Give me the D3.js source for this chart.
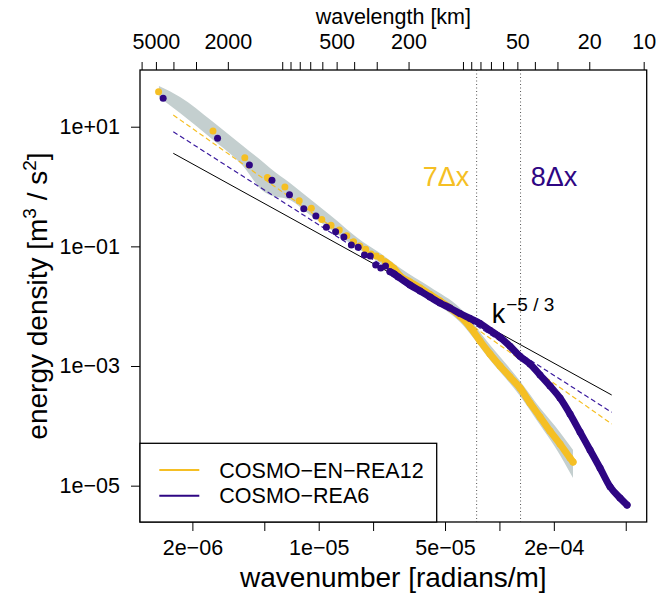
<!DOCTYPE html>
<html>
<head>
<meta charset="utf-8">
<script src="https://cdn.jsdelivr.net/npm/d3@7"></script>
<style>
body { margin: 0; background: #fff; }
svg text { font-family: "Liberation Sans", Arial, Helvetica, sans-serif; fill: #000; }
</style>
</head>
<body>
<svg id="chart" width="657" height="596"></svg>
<script>
// wavenumber in radians/m, energy density in m^3/s^2
const rea12Wavenumber = [1.30e-6, 2.60e-6, 3.90e-6, 5.20e-6, 6.50e-6, 7.80e-6, 9.10e-6, 1.04e-5, 1.17e-5, 1.30e-5,
    1.43e-5, 1.56e-5, 1.69e-5, 1.82e-5, 1.95e-5, 2.08e-5, 2.21e-5, 2.34e-5, 2.47e-5, 2.60e-5,
    2.82e-5, 3.20e-5, 3.64e-5, 4.13e-5, 4.69e-5, 5.33e-5, 6.05e-5, 6.88e-5, 7.81e-5, 8.87e-5,
    1.008e-4, 1.145e-4, 1.300e-4, 1.477e-4, 1.678e-4, 1.905e-4, 2.164e-4, 2.458e-4, 2.554e-4];
const rea12Energy = [38.5, 8.47, 3.03, 1.41, 0.983, 0.580, 0.433, 0.281, 0.225, 0.188,
    0.151, 0.120, 0.101, 0.0893, 0.0745, 0.069, 0.0632, 0.0548, 0.0488, 0.043,
    0.0320, 0.0254, 0.0201, 0.0157, 0.0122, 0.00933, 0.00686, 0.00449, 0.00262, 0.00159,
    0.00100, 0.000655, 0.000429, 0.000241, 0.000141, 8.2e-5, 4.97e-5, 2.90e-5, 2.49e-5];

const rea6Wavenumber = [1.378e-6, 2.756e-6, 4.134e-6, 5.512e-6, 6.89e-6, 8.268e-6, 9.646e-6, 1.1024e-5, 1.2402e-5, 1.378e-5,
    1.5158e-5, 1.6536e-5, 1.7914e-5, 1.9292e-5, 2.067e-5, 2.2048e-5, 2.3426e-5, 2.4804e-5, 2.6182e-5, 2.756e-5,
    3.20e-5, 3.64e-5, 4.13e-5, 4.69e-5, 5.33e-5, 6.05e-5, 6.88e-5, 7.81e-5, 8.87e-5, 1.008e-4,
    1.145e-4, 1.300e-4, 1.477e-4, 1.678e-4, 1.905e-4, 2.164e-4, 2.458e-4, 2.792e-4, 3.172e-4, 3.603e-4,
    4.093e-4, 4.649e-4, 5.084e-4];
const rea6Energy = [29.9, 6.40, 2.29, 1.27, 0.730, 0.426, 0.321, 0.208, 0.176, 0.143,
    0.105, 0.0964, 0.0718, 0.0691, 0.0489, 0.0435, 0.0469, 0.0377, 0.0345, 0.0308,
    0.0226, 0.01794, 0.01424, 0.01131, 0.00933, 0.00755, 0.00623, 0.00514, 0.00396, 0.00302,
    0.002136, 0.001454, 0.00108, 0.000708, 0.000464, 0.000292, 0.000158, 7.9e-5, 3.95e-5, 1.975e-5,
    9.62e-6, 6.22e-6, 4.75e-6];

// ensemble spread of COSMO-EN-REA12
const spreadWavenumber = [1.306e-6, 1.708e-6, 2.567e-6, 3.812e-6, 4.916e-6, 5.375e-6, 6.938e-6, 8.953e-6, 1.155e-5, 1.758e-5,
    2.184e-5, 2.818e-5, 4.13e-5, 6.05e-5, 8.87e-5, 1.300e-4, 1.678e-4, 2.031e-4, 2.554e-4];
const spreadHigh = [47.9, 31.4, 12.46, 4.76, 2.572, 2.042, 1.146, 0.619, 0.334, 0.1183,
    0.0774, 0.0435, 0.02093, 0.00933, 0.002246, 0.000562, 0.000199, 9.94e-5, 3.95e-5];
const spreadLow = [31.4, 16.95, 6.23, 2.205, 0.8425, 0.7225, 0.5957, 0.3344, 0.1952, 0.0805,
    0.0527, 0.02537, 0.01269, 0.00544, 0.001261, 0.0003155, 0.0001033, 4.43e-5, 1.344e-5];

// reference slopes: [start, end]
const fitWavenumber = [1.568e-6, 4.18e-4];
const kolmogorovEnergy = [3.593, 3.279e-4];
const rea12FitEnergy = [15.69, 1.074e-4];
const rea6FitEnergy = [8.25, 1.684e-4];

// effective resolution (km): 7 x 12 km and 8 x 6 km
const cutoffWavelength = [84, 48];
const cutoffLabels = ["7Δx", "8Δx"];

const xTicks = [2e-6, 5e-6, 1e-5, 2e-5, 5e-5, 1e-4, 2e-4, 5e-4];
const xTickLabels = ["2e−06", "", "1e−05", "", "5e−05", "", "2e−04", ""];
const yTicks = [10, 0.1, 1e-3, 1e-5];
const yTickLabels = ["1e+01", "1e−01", "1e−03", "1e−05"];
const wavelengthTicks = [6000, 5000, 4000, 3000, 2000, 1000, 900, 800, 700, 600, 500, 400, 300, 200,
    100, 90, 80, 70, 60, 50, 40, 30, 20, 10];
const wavelengthLabels = [5000, 2000, 500, 200, 50, 20, 10];

const seriesNames = ["COSMO−EN−REA12", "COSMO−REA6"];
const yellow = "#f5bf24";
const purple = "#2e0683";

const xLimits = [1.026e-6, 6.53e-4];
const yLimits = [2.47e-6, 88.7];

const svg = d3.select("#chart");
const margin = { top: 70, right: 10.3, bottom: 74, left: 140 };
const width = 657 - margin.left - margin.right;
const height = 596 - margin.top - margin.bottom;

const x = d3.scaleLog().domain(xLimits).range([0, width]);
const y = d3.scaleLog().domain(yLimits).range([height, 0]);
const toWavelength = k => 2 * Math.PI / k / 1000;
const xTop = d3.scaleLog().domain(xLimits.map(toWavelength)).range([0, width]);

const g = svg.append("g").attr("transform", `translate(${margin.left},${margin.top})`);

svg.append("defs").append("clipPath").attr("id", "clip")
    .append("rect").attr("width", width).attr("height", height);

const plot = g.append("g").attr("clip-path", "url(#clip)");

// spread band
const band = d3.area()
    .x((d, i) => x(spreadWavenumber[i]))
    .y0((d, i) => y(spreadLow[i]))
    .y1((d, i) => y(spreadHigh[i]))
    .curve(d3.curveMonotoneX);
plot.append("path")
    .datum(spreadWavenumber)
    .attr("d", band)
    .attr("fill", "#c4cfcf");

// dotted resolution lines
plot.selectAll(".cutoff")
    .data(cutoffWavelength)
    .enter()
    .append("line")
    .attr("x1", d => xTop(d))
    .attr("x2", d => xTop(d))
    .attr("y1", 0)
    .attr("y2", height)
    .attr("stroke", "#555")
    .attr("stroke-width", 1)
    .attr("stroke-dasharray", "1,2.5");

const straight = d3.line().x((d, i) => x(fitWavenumber[i])).y(d => y(d));
plot.append("path").datum(kolmogorovEnergy).attr("d", straight)
    .attr("stroke", "#000").attr("stroke-width", 1).attr("fill", "none");
plot.append("path").datum(rea12FitEnergy).attr("d", straight)
    .attr("stroke", yellow).attr("stroke-width", 1.2).attr("stroke-dasharray", "5,3").attr("fill", "none");
plot.append("path").datum(rea6FitEnergy).attr("d", straight)
    .attr("stroke", "#3a1a9e").attr("stroke-width", 1.2).attr("stroke-dasharray", "5,3").attr("fill", "none");

const drawSpectrum = (ks, es, color, denseFrom) => {
    const points = ks.map((k, i) => ({ k: k, e: es[i] }));
    const dense = d3.line().x(d => x(d.k)).y(d => y(d.e)).curve(d3.curveMonotoneX);
    plot.append("path")
        .datum(points.slice(denseFrom))
        .attr("d", dense)
        .attr("fill", "none")
        .attr("stroke", color)
        .attr("stroke-width", 7)
        .attr("stroke-linecap", "round")
        .attr("stroke-linejoin", "round");
    plot.append("g").selectAll("circle")
        .data(points)
        .enter()
        .append("circle")
        .attr("cx", d => x(d.k))
        .attr("cy", d => y(d.e))
        .attr("r", 3.5)
        .attr("fill", color);
}

drawSpectrum(rea12Wavenumber, rea12Energy, yellow, 17);
drawSpectrum(rea6Wavenumber, rea6Energy, purple, 17);

// annotations
g.selectAll(".cutoff-label")
    .data(cutoffLabels)
    .enter()
    .append("text")
    .attr("x", (d, i) => [306, 414][i])
    .attr("y", 116)
    .attr("text-anchor", "middle")
    .style("font-size", "27px")
    .style("fill", (d, i) => i === 0 ? yellow : purple)
    .text(d => d);

const slopeLabel = g.append("text")
    .attr("x", 351.7)
    .attr("y", 253)
    .style("font-size", "27px");
slopeLabel.append("tspan").text("k");
slopeLabel.append("tspan").attr("dx", 1).attr("dy", -12).style("font-size", "19px").text("−5 / 3");

// axes
const bottomAxis = d3.axisBottom(x)
    .tickValues(xTicks)
    .tickFormat((d, i) => xTickLabels[i])
    .tickSize(9)
    .tickSizeOuter(0)
    .tickPadding(9);
const leftAxis = d3.axisLeft(y)
    .tickValues(yTicks)
    .tickFormat((d, i) => yTickLabels[i])
    .tickSize(9)
    .tickSizeOuter(0)
    .tickPadding(11);
const topAxis = d3.axisTop(xTop)
    .tickValues(wavelengthTicks)
    .tickFormat(d => wavelengthLabels.includes(d) ? String(d) : "")
    .tickSize(8)
    .tickSizeOuter(0)
    .tickPadding(13);

const styleAxis = (sel) => {
    sel.select(".domain").remove();
    sel.selectAll("line").attr("stroke", "#000");
    sel.selectAll("text").style("font-size", "21.5px").style("font-family", "Liberation Sans, Arial, sans-serif");
}

g.append("g").attr("transform", `translate(0,${height})`).call(bottomAxis).call(styleAxis);
g.append("g").call(leftAxis).call(styleAxis);
g.append("g").call(topAxis).call(styleAxis);

g.append("rect")
    .attr("width", width)
    .attr("height", height)
    .attr("fill", "none")
    .attr("stroke", "#000")
    .attr("stroke-width", 1.3);

// titles
svg.append("text")
    .attr("x", margin.left + width / 2)
    .attr("y", 24)
    .attr("text-anchor", "middle")
    .style("font-size", "21.5px")
    .text("wavelength [km]");

svg.append("text")
    .attr("x", margin.left + width / 2)
    .attr("y", 587)
    .attr("text-anchor", "middle")
    .style("font-size", "28px")
    .text("wavenumber [radians/m]");

const yTitle = svg.append("text")
    .attr("transform", `translate(47,${margin.top + height / 2}) rotate(-90)`)
    .attr("text-anchor", "middle")
    .style("font-size", "28px");
yTitle.append("tspan").text("energy density [m");
yTitle.append("tspan").attr("dy", -11).style("font-size", "19px").text("3");
yTitle.append("tspan").attr("dy", 11).text(" / s");
yTitle.append("tspan").attr("dy", -11).style("font-size", "19px").text("2");
yTitle.append("tspan").attr("dy", 11).text("]");

// legend
const legend = g.append("g").attr("transform", `translate(0,${height - 78.7})`);
legend.append("rect")
    .attr("width", 296.7)
    .attr("height", 78.7)
    .attr("fill", "#fff")
    .attr("stroke", "#000")
    .attr("stroke-width", 1.3);
const legendItem = legend.selectAll(".item")
    .data(seriesNames)
    .enter()
    .append("g")
    .attr("transform", (d, i) => `translate(0,${26.7 + i * 25.7})`);
legendItem.append("line")
    .attr("x1", 19.3)
    .attr("x2", 59.3)
    .attr("stroke", (d, i) => i === 0 ? yellow : purple)
    .attr("stroke-width", 2);
legendItem.append("text")
    .attr("x", 79.3)
    .attr("dy", "0.35em")
    .style("font-size", "21.5px")
    .text(d => d);
</script>
</body>
</html>
